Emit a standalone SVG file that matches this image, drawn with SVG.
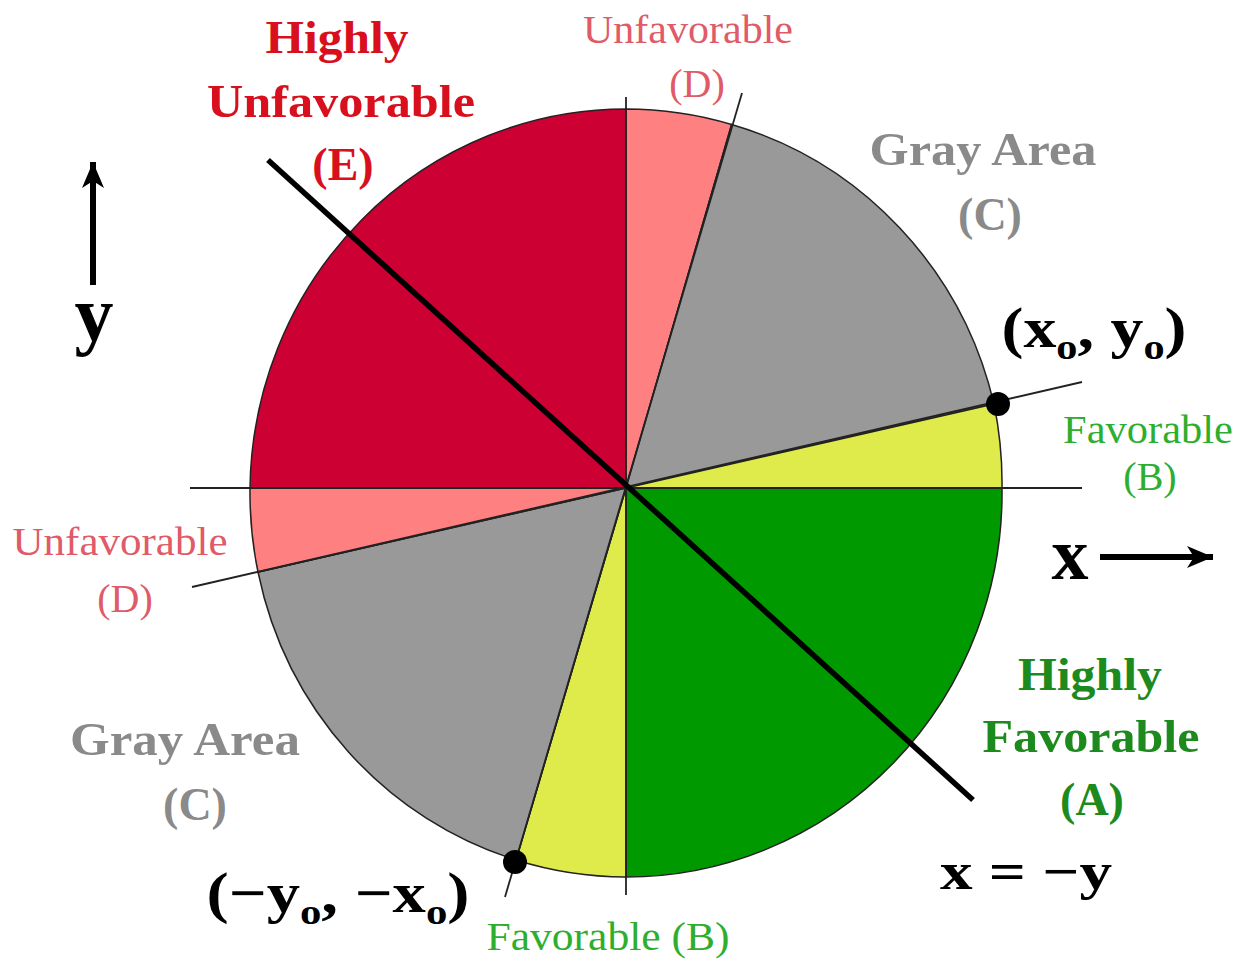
<svg xmlns="http://www.w3.org/2000/svg" width="1254" height="967" viewBox="0 0 1254 967">
<defs>
<style>
.t{font-family:"Liberation Serif","Times New Roman",serif;text-anchor:middle}
.b{font-weight:bold}
.sec{stroke:#222;stroke-width:1.5}
.ln{stroke:#222;stroke-width:1.8;fill:none}
.red{fill:#d8101e}
.pk{fill:#e05a68}
.gr{fill:#8a8a8a}
.lg{fill:#2eae2e}
.dg{fill:#1c8a1c}
.bk{fill:#000}
</style>
<marker id="ah" markerWidth="26" markerHeight="22" refX="26" refY="11" orient="auto" markerUnits="userSpaceOnUse">
<path d="M0,0 L26,11 L0,22 L7,11 Z" fill="#000"/>
</marker>
</defs>
<rect width="1254" height="967" fill="#fff"/>
<g id="pie">
<path class="sec" fill="#cc0033" d="M626,488 L250,488 A376,384 0 0 1 626,109 Z"/>
<path class="sec" fill="#ff8080" d="M626,488 L626,109 A376,384 0 0 1 731.6,124.5 Z"/>
<path class="sec" fill="#999999" d="M626,488 L731.6,124.5 A376,384 0 0 1 994,404 Z"/>
<path class="sec" fill="#dfeb4a" d="M626,488 L994,404 A376,384 0 0 1 1002,488 Z"/>
<path class="sec" fill="#009900" d="M626,488 L1002,488 A376,384 0 0 1 626,877 Z"/>
<path class="sec" fill="#dfeb4a" d="M626,488 L626,877 A376,384 0 0 1 516,860 Z"/>
<path class="sec" fill="#999999" d="M626,488 L516,860 A376,384 0 0 1 258,572 Z"/>
<path class="sec" fill="#ff8080" d="M626,488 L258,572 A376,384 0 0 1 250,488 Z"/>
</g>
<g id="connectors">
<line class="ln" x1="190" y1="488" x2="1082" y2="488"/>
<line class="ln" x1="626" y1="97" x2="626" y2="895"/>
<line class="ln" x1="742" y1="93" x2="505" y2="897"/>
<line class="ln" x1="192" y1="587" x2="1082" y2="382"/>
<line x1="268" y1="160" x2="973" y2="800" stroke="#000" stroke-width="5.5"/>
<line x1="93" y1="285" x2="93" y2="162" stroke="#000" stroke-width="6" marker-end="url(#ah)"/>
<line x1="1100" y1="557" x2="1213" y2="557" stroke="#000" stroke-width="6" marker-end="url(#ah)"/>
</g>
<g id="points">
<circle cx="998" cy="404" r="12" fill="#000"/>
<circle cx="515" cy="862" r="12" fill="#000"/>
</g>
<g id="label-E">
<text class="t b red" x="337" y="53" font-size="46" textLength="143" lengthAdjust="spacingAndGlyphs">Highly</text>
<text class="t b red" x="341" y="117" font-size="46" textLength="268" lengthAdjust="spacingAndGlyphs">Unfavorable</text>
<text class="t b red" x="343" y="180" font-size="46">(E)</text>
</g>
<g id="label-D-top">
<text class="t pk" x="688" y="43" font-size="40" textLength="210" lengthAdjust="spacingAndGlyphs">Unfavorable</text>
<text class="t pk" x="697" y="97" font-size="40">(D)</text>
</g>
<g id="label-C-right">
<text class="t b gr" x="983" y="165" font-size="46" textLength="227" lengthAdjust="spacingAndGlyphs">Gray Area</text>
<text class="t b gr" x="990" y="230" font-size="46">(C)</text>
</g>
<g id="label-x0y0">
<text class="t b bk" x="1094" y="347" font-size="56" textLength="185" lengthAdjust="spacingAndGlyphs">(x<tspan font-size="36" dy="12">o</tspan><tspan dy="-12">, y</tspan><tspan font-size="36" dy="12">o</tspan><tspan dy="-12">)</tspan></text>
</g>
<g id="label-B-right">
<text class="t lg" x="1148" y="443" font-size="40" textLength="170" lengthAdjust="spacingAndGlyphs">Favorable</text>
<text class="t lg" x="1150" y="490" font-size="40">(B)</text>
</g>
<g id="axis-x">
<text class="t b bk" x="1070" y="579" font-size="74">x</text>
</g>
<g id="axis-y">
<text class="t b bk" x="94" y="340" font-size="78">y</text>
</g>
<g id="label-A">
<text class="t b dg" x="1090" y="690" font-size="46" textLength="144" lengthAdjust="spacingAndGlyphs">Highly</text>
<text class="t b dg" x="1091" y="752" font-size="46" textLength="217" lengthAdjust="spacingAndGlyphs">Favorable</text>
<text class="t b dg" x="1092" y="815" font-size="46">(A)</text>
</g>
<g id="label-line">
<text class="t b bk" x="1026" y="889" font-size="52" textLength="172" lengthAdjust="spacingAndGlyphs">x = −y</text>
</g>
<g id="label-y0x0">
<text class="t b bk" x="338" y="912" font-size="56" textLength="263" lengthAdjust="spacingAndGlyphs">(−y<tspan font-size="36" dy="12">o</tspan><tspan dy="-12">, −x</tspan><tspan font-size="36" dy="12">o</tspan><tspan dy="-12">)</tspan></text>
</g>
<g id="label-B-bottom">
<text class="t lg" x="608" y="950" font-size="40" textLength="243" lengthAdjust="spacingAndGlyphs">Favorable (B)</text>
</g>
<g id="label-C-left">
<text class="t b gr" x="185" y="755" font-size="46" textLength="230" lengthAdjust="spacingAndGlyphs">Gray Area</text>
<text class="t b gr" x="195" y="820" font-size="46">(C)</text>
</g>
<g id="label-D-left">
<text class="t pk" x="120" y="555" font-size="40" textLength="215" lengthAdjust="spacingAndGlyphs">Unfavorable</text>
<text class="t pk" x="125" y="612" font-size="40">(D)</text>
</g>
</svg>
